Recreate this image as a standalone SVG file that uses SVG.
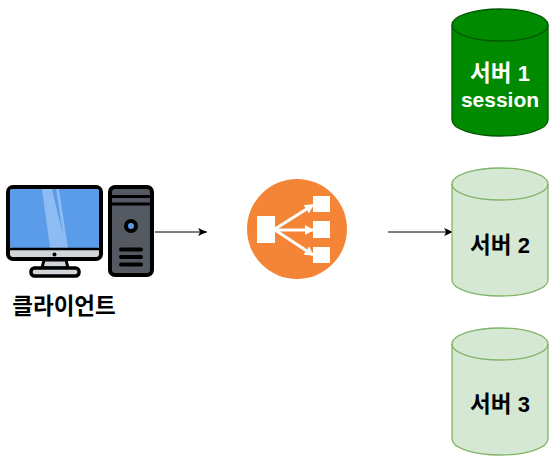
<svg xmlns="http://www.w3.org/2000/svg" width="560" height="459" viewBox="0 0 560 459">
<style>
.t{font-family:"Liberation Sans","Noto Sans CJK KR",sans-serif;font-weight:bold;font-size:21px;text-anchor:middle}
.k{font-size:22.500px}
.n{font-size:22px}
.g{fill:#d5e8d4;stroke:#82b366;stroke-width:1.300}
.d{fill:#008a00;stroke:#005700;stroke-width:1.300}
.e{fill:none}
.w{stroke:#fff;stroke-width:3;fill:none}
.c{stroke:#000;stroke-width:1;fill:none;marker-end:url(#a)}
</style>
<defs>
<marker id="a" markerWidth="10" markerHeight="8" refX="9" refY="4" orient="auto" markerUnits="userSpaceOnUse"><path d="M0 0L9 4L0 8L2.200 4Z" fill="#000"/></marker>
<marker id="b" markerWidth="9" markerHeight="10" refX="8" refY="5" orient="auto" markerUnits="userSpaceOnUse"><path d="M0 0L9 5L0 10Z" fill="#fff"/></marker>
</defs>
<rect width="560" height="459" fill="#fff"/>
<g id="connectors">
<path class="c" d="M155 232H207"/>
<path class="c" d="M388 232H453"/>
</g>
<g id="client">
<path d="M44 260L42 268H68L66 260Z" fill="#d1d5da" stroke="#000" stroke-width="3"/>
<rect x="31" y="268" width="48" height="8" rx="3.500" fill="#d1d5da" stroke="#000" stroke-width="3.500"/>
<rect x="8" y="187" width="93" height="72" rx="5" fill="#d1d5da" stroke="#000" stroke-width="4"/>
<rect x="10" y="189" width="89" height="59" rx="2" fill="#5a9bea"/>
<path d="M42 189H52L66 248H50Z M56 189H59L68 248H65Z" fill="#8dbcf3"/>
<path d="M10 249H99" stroke="#000" stroke-width="2.500"/>
<circle cx="54.500" cy="254.500" r="2" fill="#000"/>
<rect x="110" y="187" width="42" height="88" rx="5" fill="#555a62" stroke="#000" stroke-width="4"/>
<path d="M112 196.500H150M112 204H150" stroke="#000" stroke-width="3"/>
<circle cx="131" cy="226" r="5" fill="#5a9bea" stroke="#000" stroke-width="4"/>
<path d="M121 249.500H141M121 257H141M121 264.500H141" stroke="#000" stroke-width="4" stroke-linecap="round"/>
<text class="t k" x="64" y="314" fill="#000">클라이언트</text>
</g>
<g id="load-balancer">
<circle cx="297" cy="229" r="50" fill="#f58536"/>
<path fill="#fff" d="M257 216H275V243H257ZM313 196H330V212H313ZM313 221H330V238H313ZM313 247H330V263H313Z"/>
<path class="w" marker-end="url(#b)" d="M275 229L313 205"/>
<path class="w" marker-end="url(#b)" d="M275 230H313"/>
<path class="w" marker-end="url(#b)" d="M275 230L313 255"/>
</g>
<g id="server-1">
<path class="d" d="M452 25A48 16 0 0 1 548 25V120A48 16 0 0 1 452 120Z"/>
<path class="d e" d="M452 25A48 16 0 0 0 548 25"/>
<text class="t n" x="500" y="81" fill="#fff"><tspan class="k">서버</tspan> 1</text>
<text class="t" x="500" y="107" fill="#fff">session</text>
</g>
<g id="server-2">
<path class="g" d="M452 184A48 16 0 0 1 548 184V280A48 16 0 0 1 452 280Z"/>
<path class="g e" d="M452 184A48 16 0 0 0 548 184"/>
<text class="t n" x="500" y="253" fill="#000"><tspan class="k">서버</tspan> 2</text>
</g>
<g id="server-3">
<path class="g" d="M452 344A48 16 0 0 1 548 344V439A48 16 0 0 1 452 439Z"/>
<path class="g e" d="M452 344A48 16 0 0 0 548 344"/>
<text class="t n" x="500" y="412" fill="#000"><tspan class="k">서버</tspan> 3</text>
</g>
</svg>
